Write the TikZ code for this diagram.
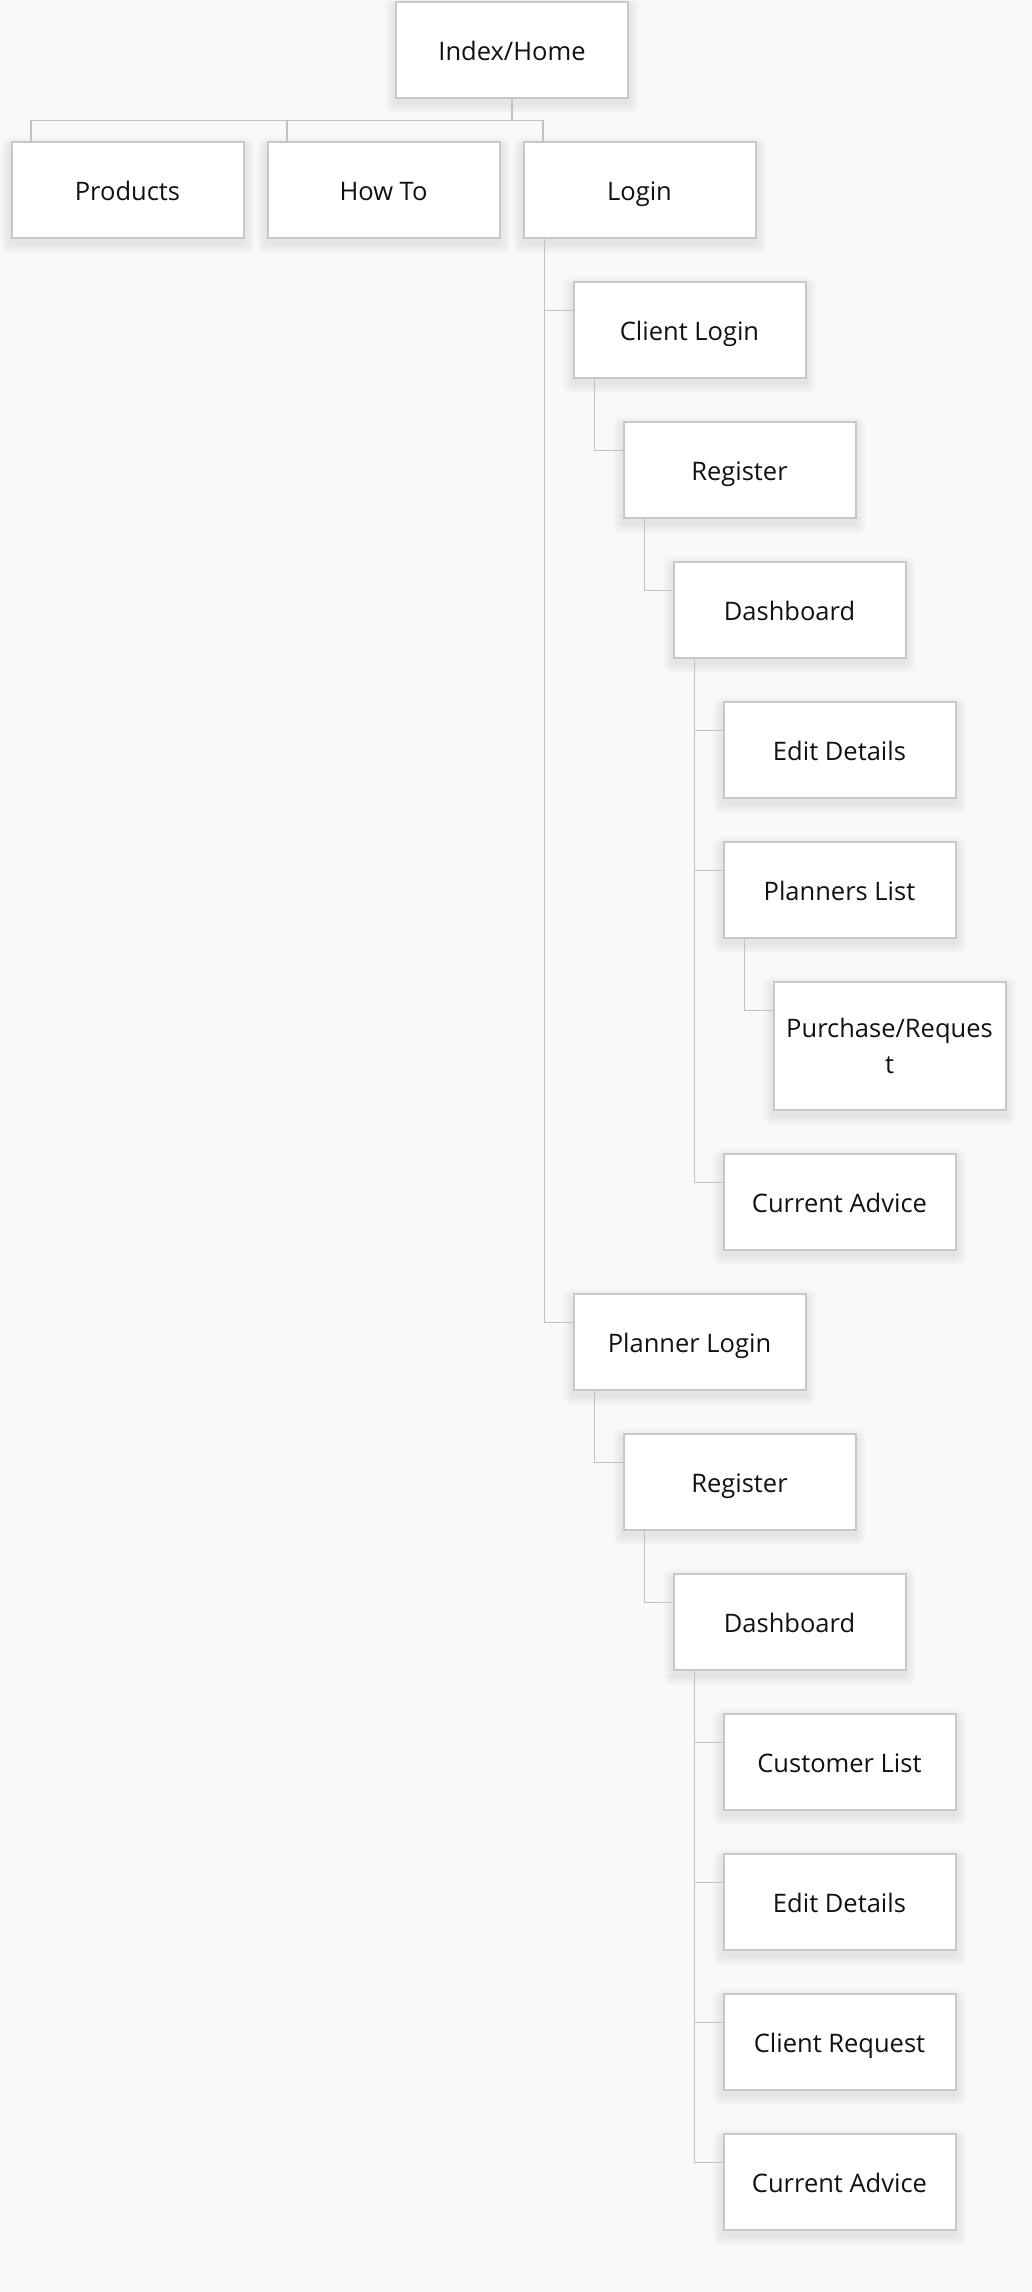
\documentclass[tikz,border=0pt]{standalone}
\usepackage{fontspec}
\setmainfont{Open Sans}
\usetikzlibrary{backgrounds}
\definecolor{bg}{HTML}{F8F9FA}
\definecolor{edge}{HTML}{C8C8C8}
\definecolor{lin}{HTML}{C2C2C2}
\definecolor{txt}{HTML}{111111}
\begin{document}
\begin{tikzpicture}[x=1pt,y=-1pt,
  pagebase/.style={draw=edge,line width=2pt,fill=white,minimum width=232pt,minimum height=96pt,
    inner sep=0pt,anchor=north west,align=center,font=\fontsize{25.5}{36}\selectfont,text=txt},
  page/.style={pagebase,text height=21.4pt,text depth=0pt},
  conn/.style={draw=lin,line width=1.8pt}]
\useasboundingbox (0,0) rectangle (1032,2292);
% nodes
\node[page] (home) at (395,1) {Index/Home};
\node[page] (prod) at (10.5,141) {Products};
\node[page] (howto) at (266.5,141) {How To};
\node[page] (login) at (522.5,141) {Login};
\node[page] (cl) at (572.5,281) {Client Login};
\node[page] (creg) at (622.5,421) {Register};
\node[page] (cdash) at (672.5,561) {Dashboard};
\node[page] (cedit) at (722.5,701) {Edit Details};
\node[page] (cplan) at (722.5,841) {Planners List};
\node[pagebase,minimum height=128pt] (cpur) at (772.5,981) {Purchase/Reques\\t};
\node[page] (cadv) at (722.5,1153) {Current Advice};
\node[page] (pl) at (572.5,1293) {Planner Login};
\node[page] (preg) at (622.5,1433) {Register};
\node[page] (pdash) at (672.5,1573) {Dashboard};
\node[page] (pcust) at (722.5,1713) {Customer List};
\node[page] (pedit) at (722.5,1853) {Edit Details};
\node[page] (preq) at (722.5,1993) {Client Request};
\node[page] (padv) at (722.5,2133) {Current Advice};
% background and soft shadows
\begin{pgfonlayer}{background}
  \fill[bg] (0,0) rectangle (1032,2292);
  \foreach \n in {home,prod,howto,login,cl,creg,cdash,cedit,cplan,cpur,cadv,pl,preg,pdash,pcust,pedit,preq,padv}{
    \foreach \i in {1,...,10}{
      \fill[black,opacity=0.008,rounded corners=\i pt]
        ([xshift=-\i pt,yshift={-5pt-\i pt}]\n.south west) rectangle ([xshift=\i pt,yshift={-5pt+\i pt}]\n.north east);
    }
  }
\end{pgfonlayer}
% top-level bus
\foreach \c in {prod,howto,login}{
  \draw[conn] (home.south) |- ([xshift=20.5pt,yshift=20.5pt]\c.north west) -- ([xshift=20.5pt]\c.north west);
}
% tree connectors
\foreach \p/\c in {login/cl,login/pl,cl/creg,creg/cdash,cdash/cedit,cdash/cplan,cdash/cadv,cplan/cpur,
                   pl/preg,preg/pdash,pdash/pcust,pdash/pedit,pdash/preq,pdash/padv}{
  \draw[conn] ([xshift=22pt]\p.south west) |- ([yshift=-29.5pt]\c.north west);
}
\end{tikzpicture}
\end{document}
